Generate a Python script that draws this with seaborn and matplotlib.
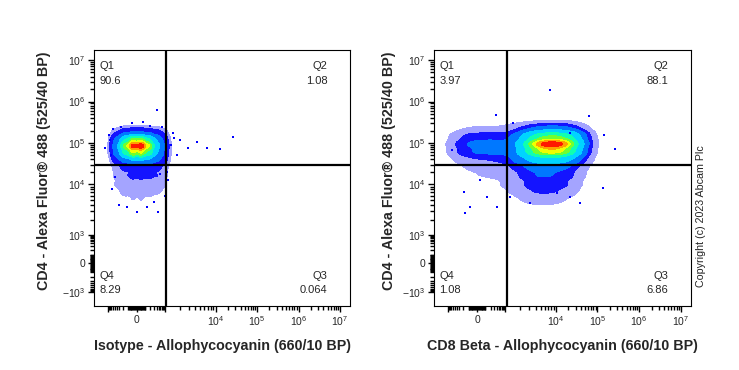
import numpy as np
import pandas as pd
import seaborn as sns
import matplotlib.pyplot as plt
from matplotlib.ticker import FixedLocator

# bin centres (fluorescence units) and relative event density
iso_x = [-420, -170, -45, 45, 170, 420, 900]
iso_y = [1.85e5, 1.25e5, 8.5e4, 5.7e4, 3.9e4, 2.5e4, 1.6e4, 1.0e4, 7.1e3, 4.9e3, 3.4e3]
iso_w = [
    [0.5, 1.5, 2, 2, 1.5, 1, 0.4],
    [3, 10, 16, 16, 11, 5, 1.5],
    [5, 18, 34, 36, 20, 8, 2.5],
    [4, 12, 19, 19, 13, 6, 2],
    [1.5, 4, 6, 6, 5, 3, 1.2],
    [0.5, 1, 1.3, 1.3, 1.2, 1, 0.5],
    [0.4, 0.8, 1.1, 1.1, 1, 0.8, 0.4],
    [0.3, 0.6, 0.8, 0.8, 0.7, 0.6, 0.3],
    [0.15, 0.4, 0.5, 0.5, 0.45, 0.3, 0.15],
    [0.05, 0.2, 0.25, 0.25, 0.2, 0.1, 0.05],
    [0, 0.05, 0.1, 0.1, 0.05, 0, 0],
]
# sparse events around the isotype population
iso_dots_x = [1980, 2850, 4300, 6800, 12800, 26000, 1440, 1730, 1250, 1150, 420, 70, -56,
              -1150, -810, 0, 470, -120, 130, -700, -600, 700, -500, -650, 950, 300, -300,
              1100, 1300, 1500, -900, 200, -250, 600]
iso_dots_y = [1.18e5, 7.6e4, 1.06e5, 7.6e4, 7.2e4, 1.4e5, 1.75e5, 5.1e4, 2.9e4, 1.28e4, 6.3e5,
              3.2e5, 3.0e5, 7.6e4, 1.18e5, 2850, 2850, 3570, 3570, 5e4, 2.2e5, 2.4e5, 1.5e4,
              8e3, 6e3, 4.5e3, 4e3, 2e4, 9e4, 1.3e5, 1.6e5, 2.6e5, 2.4e5, 1.8e4]

cd8_x = [-420, -130, 0, 130, 420, 1100, 1730, 2720, 4290, 6760, 1.08e4, 1.9e4, 3.3e4, 5.7e4]
cd8_y = [2.3e5, 1.48e5, 9.5e4, 6.1e4, 3.9e4, 2.5e4, 1.6e4, 1.0e4, 7.1e3, 4.9e3, 3.4e3]
cd8_w = [
    [0, 0.2, 0.2, 0.2, 0.2, 0.3, 0.6, 1.2, 2, 2.5, 2.5, 2, 0.8, 0.1],
    [0.5, 1.2, 1.4, 1.4, 1.4, 1.4, 2.5, 8, 15, 18, 18, 15, 6, 0.6],
    [1, 2.2, 3, 3, 3, 2.5, 4, 15, 32, 38, 38, 32, 10, 1],
    [0.8, 1.8, 2.5, 2.5, 2.5, 2.5, 4, 12, 22, 26, 26, 21, 7, 0.7],
    [0.2, 0.6, 0.8, 0.8, 1, 1.3, 2.5, 4.5, 7, 8, 7.5, 6, 2.5, 0.3],
    [0.1, 0.2, 0.3, 0.3, 0.4, 0.6, 1.1, 2, 3, 3, 2.6, 2, 0.7, 0.1],
    [0.1, 0.15, 0.2, 0.2, 0.25, 0.35, 0.7, 1.5, 2.2, 2.2, 1.9, 1.4, 0.5, 0.05],
    [0.1, 0.1, 0.15, 0.15, 0.15, 0.25, 0.5, 1.1, 1.6, 1.6, 1.4, 1, 0.3, 0],
    [0.05, 0.05, 0.1, 0.1, 0.1, 0.15, 0.3, 0.7, 1, 1, 0.9, 0.5, 0.15, 0],
    [0, 0.05, 0.05, 0.05, 0.05, 0.05, 0.15, 0.25, 0.4, 0.4, 0.3, 0.15, 0.05, 0],
    [0, 0, 0, 0, 0, 0, 0.05, 0.1, 0.1, 0.1, 0.1, 0.05, 0, 0],
]
cd8_dots_x = [7700, 375, 6.1e4, 1.4e5, 2.7e5, 1.33e5, 3.9e4, 3100, -160, -190, -350, -660, -75,
              30, 2.2e4, 1440, 420, 130, 1250, 1.08e4, 2.2e4]
cd8_dots_y = [1.9e6, 4.7e5, 4.5e5, 1.55e5, 7.2e4, 8500, 4300, 4300, 2720, 7100, 6.6e4, 6.6e4,
              3570, 1.28e4, 1.75e5, 3.0e5, 3570, 5600, 5600, 6800, 5600]

# quadrant gates and percentages
iso_gate = (1030, 3.0e4)
cd8_gate = (1080, 3.0e4)
iso_pct = ['90.6', '1.08', '0.064', '8.29']
cd8_pct = ['3.97', '88.1', '6.86', '1.08']

y_label = 'CD4 - Alexa Fluor® 488 (525/40 BP)'
iso_xlabel = 'Isotype - Allophycocyanin (660/10 BP)'
cd8_xlabel = 'CD8 Beta - Allophycocyanin (660/10 BP)'


# biexponential display, channel units (~1 px each)
def biex(v):
    av = np.array([-1e7, -1e4, -1e3, 0, 1e3, 1e4, 1e5, 1e6, 1e7, 1e8])
    ap = [-203, -78.6, -29, 0, 28, 78.6, 120, 161.5, 203, 244.5]
    return np.interp(np.arcsinh(np.asarray(v, float) / 100), np.arcsinh(av / 100), ap)


def to_frame(xs, ys, w):
    gx, gy = np.meshgrid(xs, ys)
    d = pd.DataFrame({'x': gx.ravel(), 'y': gy.ravel(), 'w': np.asarray(w, float).ravel()})
    d = d[d.w > 0].reset_index(drop=True)
    d['xs'] = biex(d.x)
    d['ys'] = biex(d.y)
    return d


sns.set_style('ticks')
plt.rcParams['font.family'] = ['Liberation Sans', 'DejaVu Sans']
plt.rcParams['mathtext.fontset'] = 'custom'
plt.rcParams['mathtext.rm'] = 'Liberation Sans'
plt.rcParams['mathtext.it'] = 'Liberation Sans'

levels = [0.01, 0.05, 0.13, 0.26, 0.42, 0.58, 0.72, 0.84, 0.93, 1.0]
band_colors = ['#a4a4ff', '#1414ff', '#0078ff', '#00d4ff', '#10ffb0', '#70ff30',
               '#f0ff00', '#ffa000', '#ff1800']

fig = plt.figure(figsize=(7.39, 3.70), dpi=100)
ax1 = fig.add_axes([94.3 / 739, 64.5 / 370, 255.7 / 739, 255.5 / 370])
ax2 = fig.add_axes([434.3 / 739, 64.5 / 370, 256.4 / 739, 255.5 / 370])

panels = [
    (ax1, to_frame(iso_x, iso_y, iso_w), iso_dots_x, iso_dots_y, iso_gate, iso_pct, iso_xlabel, -0.169),
    (ax2, to_frame(cd8_x, cd8_y, cd8_w), cd8_dots_x, cd8_dots_y, cd8_gate, cd8_pct, cd8_xlabel, -0.149),
]

minor_vals = []
for k in range(1, 7):
    for m in range(2, 10):
        minor_vals += [m * 10 ** k, -m * 10 ** k]
minor_vals += [10, -10, 100, -100]
minor_vals = sorted(float(v) for v in minor_vals if -1000 < v < 1e7)
major_vals = [-1e3, 0, 1e3, 1e4, 1e5, 1e6, 1e7]

for ax, df, dx, dy, gate, pct, xlab, ylab_x in panels:
    sns.kdeplot(data=df, x='xs', y='ys', weights='w', fill=True, levels=levels,
                color='blue', colors=band_colors, bw_adjust=0.5,
                gridsize=240, cut=3, ax=ax)
    sns.scatterplot(x=biex(dx), y=biex(dy), s=4, marker='s', color='#0000ff',
                    linewidth=0, ax=ax)
    ax.axvline(biex(gate[0]), color='black', lw=1.6)
    ax.axhline(biex(gate[1]), color='black', lw=1.6)
    ax.set_xlim(-42.7, 213)
    ax.set_ylim(-42.5, 213)

    ax.xaxis.set_major_locator(FixedLocator(biex(major_vals)))
    ax.yaxis.set_major_locator(FixedLocator(biex(major_vals)))
    ax.xaxis.set_minor_locator(FixedLocator(biex(minor_vals)))
    ax.yaxis.set_minor_locator(FixedLocator(biex(minor_vals)))
    ax.set_xticklabels(['', '0', '', '$10^{4}$', '$10^{5}$', '$10^{6}$', '$10^{7}$'])
    ax.set_yticklabels(['$-10^{3}$', '0', '$10^{3}$', '$10^{4}$', '$10^{5}$', '$10^{6}$', '$10^{7}$'])
    ax.tick_params(which='major', length=4.5, width=1.0, labelsize=7.5, pad=2, color='black')
    ax.tick_params(which='minor', length=3.0, width=1.0, color='black', bottom=True, left=True)
    for s in ax.spines.values():
        s.set_color('black')
        s.set_linewidth(0.8)

    ax.set_xlabel(xlab, fontsize=10.3, fontweight='bold')
    ax.set_ylabel(y_label, fontsize=10.3, fontweight='bold')
    ax.xaxis.set_label_coords(0.5, -0.131)
    ax.yaxis.set_label_coords(ylab_x, 0.526)

    kw = dict(transform=ax.transAxes, fontsize=8, va='center')
    ax.text(0.02, 0.937, 'Q1', ha='left', **kw)
    ax.text(0.02, 0.879, pct[0], ha='left', **kw)
    ax.text(0.912, 0.937, 'Q2', ha='right', **kw)
    ax.text(0.912, 0.879, pct[1], ha='right', **kw)
    ax.text(0.912, 0.117, 'Q3', ha='right', **kw)
    ax.text(0.912, 0.061, pct[2], ha='right', **kw)
    ax.text(0.02, 0.117, 'Q4', ha='left', **kw)
    ax.text(0.02, 0.061, pct[3], ha='left', **kw)

fig.text(700.7 / 739, 154 / 370, 'Copyright (c) 2023 Abcam Plc', rotation=90,
         fontsize=7.7, ha='center', va='center', color='#222222')

fig.savefig('out.png', dpi=100)
